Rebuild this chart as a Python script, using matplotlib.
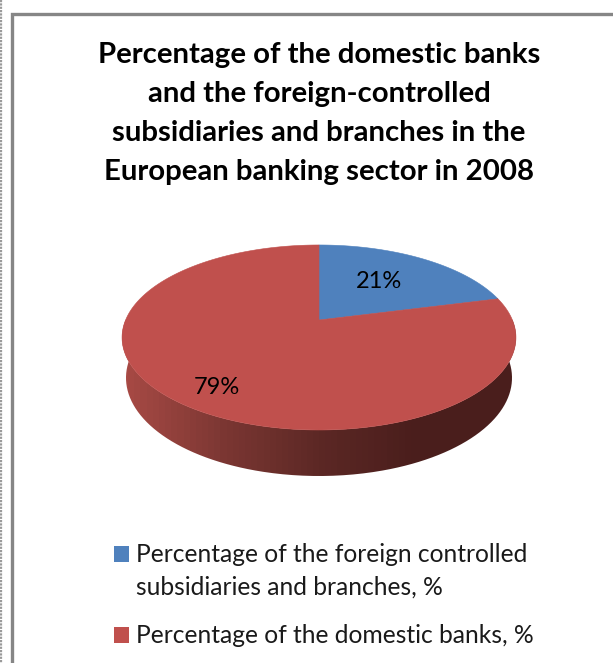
#!/usr/bin/env python3
"""
Perspective 3D pie of domestic vs. foreign-controlled banks in Europe, 2008.
"""

import numpy as np
import matplotlib
matplotlib.use("Agg")
import matplotlib.pyplot as plt
from matplotlib.colors import LinearSegmentedColormap
from matplotlib.patches import PathPatch, Polygon, Rectangle
from matplotlib.path import Path

plt.rcParams['font.family'] = ['Lato', 'DejaVu Sans']

TITLE_LINES = [
    "Percentage of the domestic banks",
    "and the foreign-controlled",
    "subsidiaries and branches in the",
    "European banking sector in 2008",
]
SHARES = [21, 79]
SHARE_LABELS = ["21%", "79%"]
SLICE_COLORS = ["#4f81bd", "#c0504d"]
LEGEND_LABELS = [
    ["Percentage of the foreign controlled", "subsidiaries and branches, %"],
    ["Percentage of the domestic banks, %"],
]
RIM_SHADES = ["#a84a45", "#7c3733", "#5c2825", "#4a1e1c", "#4a1e1c"]

# Projection of the unit disc onto the page, in pixels
CX, CY = 319.0, 320.0
SCALE_X, SCALE_Y = 193.4, 89.2
TILT = 0.189
DEPTH, DEPTH_W = 40.4, 0.0197


def project(theta, lower=False):
    """Map clockwise-from-north angles on the disc to page pixels."""
    u, v = np.sin(theta), np.cos(theta)
    w = 1 + TILT * v + (DEPTH_W if lower else 0.0)
    drop = DEPTH if lower else 0.0
    return CX + SCALE_X * u / w, CY - (SCALE_Y * v - drop) / w


def draw_rim(ax):
    """Draw the shaded outer wall of the disc, below the top face."""
    theta = np.linspace(0, 2 * np.pi, 721)
    xt, yt = project(theta)
    xb, yb = project(theta, lower=True)
    front = np.cos(theta) < 0.35
    order = np.argsort(theta[front])
    outline = np.r_[np.c_[xt[front][order], yt[front][order]],
                    np.c_[xb[front][order], yb[front][order]][::-1]]
    clip = PathPatch(Path(outline), transform=ax.transData, fc="none", ec="none")
    ax.add_patch(clip)
    cmap = LinearSegmentedColormap.from_list("rim", RIM_SHADES)
    left, right = CX - 197, CX + 197
    im = ax.imshow(np.linspace(0, 1, 64)[None, :], cmap=cmap, aspect="auto",
                   extent=(left, right, 490, 320), zorder=2)
    im.set_clip_path(clip)
    ax.set_xlim(0, 613)
    ax.set_ylim(663, 0)


def draw_top(ax):
    """Draw the top-face slices from the share values."""
    edges = np.r_[0, np.cumsum(SHARES)] / sum(SHARES) * 2 * np.pi
    for start, stop, color in zip(edges[:-1], edges[1:], SLICE_COLORS):
        theta = np.linspace(start, stop, 300)
        x, y = project(theta)
        pts = np.r_[[[CX, CY]], np.c_[x, y]]
        ax.add_patch(Polygon(pts, closed=True, fc=color, ec=color, lw=0.4, zorder=3))


def main():
    fig = plt.figure(figsize=(6.13, 6.63), dpi=100)
    ax = fig.add_axes([0, 0, 1, 1])
    ax.set_xlim(0, 613)
    ax.set_ylim(663, 0)
    ax.axis("off")

    # Chart frame and the neighbouring rule at the page edge
    ax.plot([11.5, 11.5, 613], [663, 13.5, 13.5], color="#868686", lw=2.4,
            solid_capstyle="butt", solid_joinstyle="miter")
    ax.plot([0.8, 0.8], [0, 663], color="#9a9a9a", lw=1.6, ls=(0, (1, 0.5)))

    for i, line in enumerate(TITLE_LINES):
        ax.text(319, 55 + i * 39, line, fontsize=21.2, fontweight="bold",
                ha="center", va="center", color="black")

    draw_rim(ax)
    draw_top(ax)

    ax.text(379, 281, SHARE_LABELS[0], fontsize=17, ha="center", va="center", zorder=5)
    ax.text(217, 387, SHARE_LABELS[1], fontsize=17, ha="center", va="center", zorder=5)

    for y, lines, color in zip([554, 635], LEGEND_LABELS, SLICE_COLORS):
        ax.add_patch(Rectangle((114, y - 8), 15, 15.5, fc=color, ec="none"))
        for i, line in enumerate(lines):
            ax.text(136, y + 8 + i * 33, line, fontsize=17.7, ha="left", va="baseline",
                    color="#1a1a1a")

    fig.savefig("out.png", dpi=100)
    plt.close(fig)


if __name__ == "__main__":
    main()
